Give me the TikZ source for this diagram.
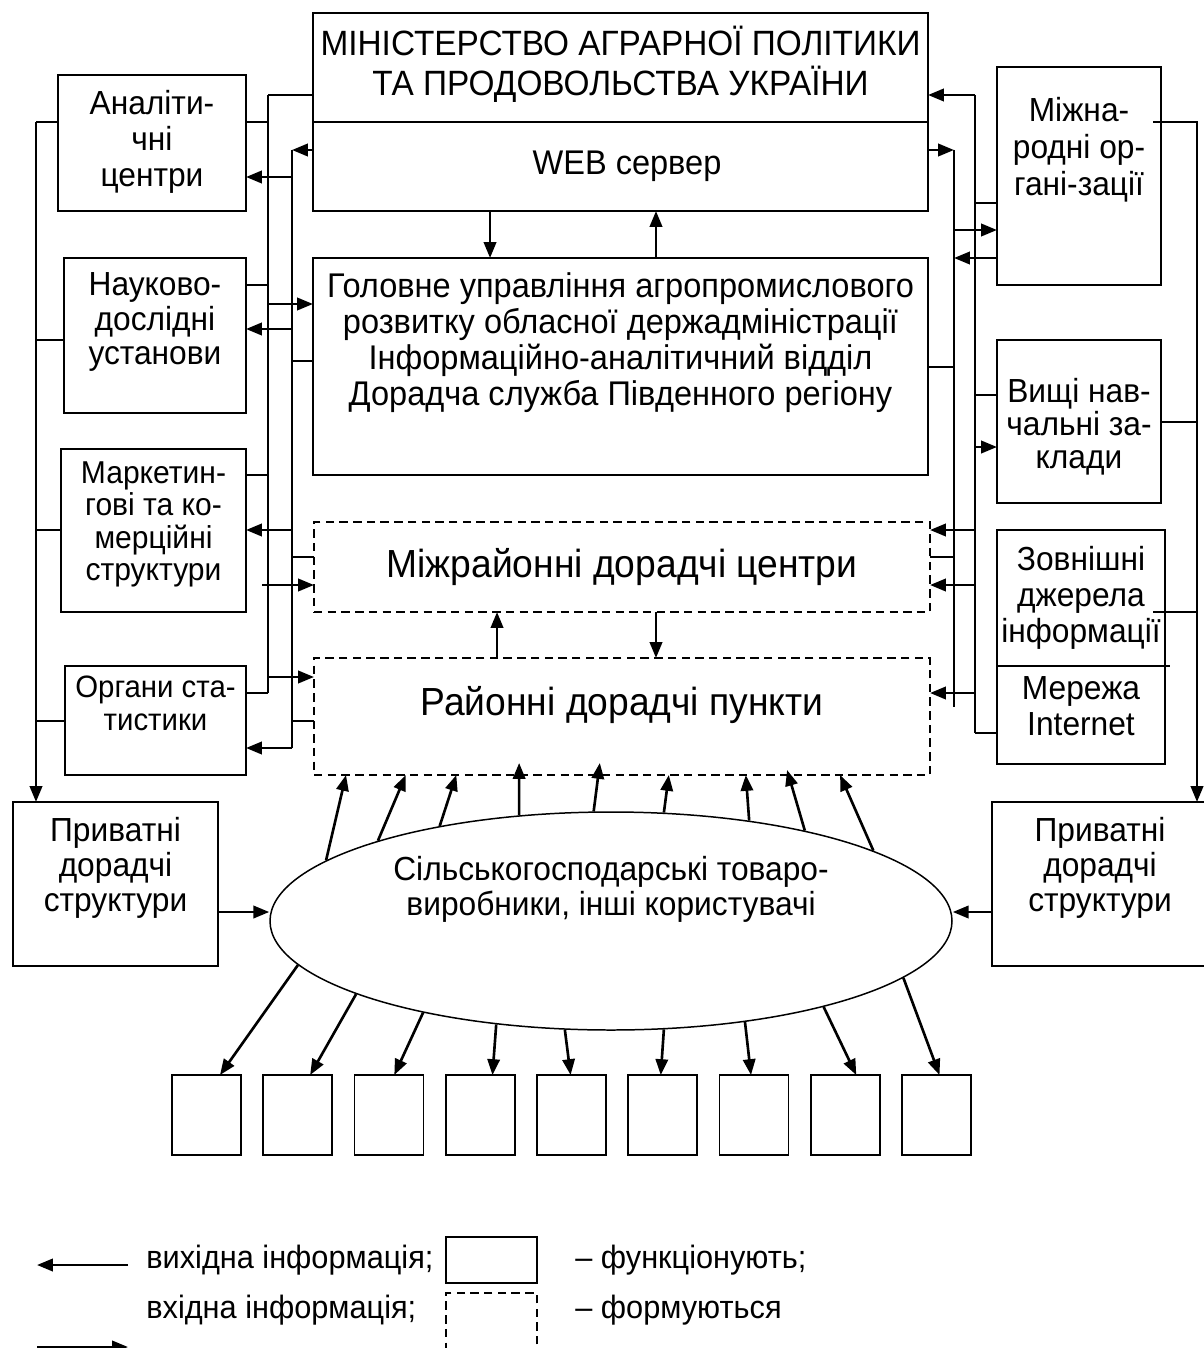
\documentclass[tikz,border=0pt]{standalone}
\usepackage{fontspec}
\setmainfont{Liberation Sans}[FakeStretch=0.95]
\usetikzlibrary{arrows.meta,
                calc,
                positioning,
                shapes.geometric}

\newcommand\setfs[2]{\fontsize{#1}{#2}\selectfont}

\begin{document}
\begin{tikzpicture}[
    x=0.02cm, y=-0.02cm,
        wh/.style 2 args = {minimum width=#1*0.02cm, minimum height=#2*0.02cm},
        base/.style = {inner sep=0pt, outer sep=0pt},
        box/.style = {base, draw, line width=1.1pt},
        dbox/.style = {base, draw, line width=0.85pt, dash pattern=on 4.8pt off 3pt},
        txt/.style = {inner sep=0pt, align=center},
        main/.style = {txt, font={\setfs{19.5}{20.5}}},
        side/.style = {txt, font={\setfs{19}{20}}},
        leg/.style = {inner sep=0pt, font={\setfs{18.4}{20}}},
        ln/.style = {line width=0.85pt},
        bus/.style = {line width=1.1pt},
        arr/.style = {line width=1.5pt, -{Triangle[length=9pt, width=7pt]}}
        ]

    \useasboundingbox (0,0) rectangle (1203,1348);

    % Centre column
    \node[box, wh={615}{109}] (min) at (620.5,67.5) {};
    \node[box, wh={615}{89}, below=0pt of min] (web) {};
    \node[box, wh={615}{217}] (gu) at (620.5,366.5) {};
    \node[dbox, wh={616}{90}] (mz) at (622,567) {};
    \node[dbox, wh={616}{117}] (rp) at (622,716.5) {};

    % Left column
    \node[box, wh={188}{136}] (ana) at (152,143) {};
    \node[box, wh={182}{155}] (nau) at (155,335.5) {};
    \node[box, wh={185}{163}] (mar) at (153.5,530.5) {};
    \node[box, wh={181}{109}] (org) at (155.5,720.5) {};

    % Right column
    \node[box, wh={164}{218}] (mo) at (1079,176) {};
    \node[box, wh={164}{163}] (vnz) at (1079,421.5) {};
    \node[box, wh={168}{136}] (zd) at (1081,598) {};
    \node[box, wh={168}{98}, below=0pt of zd] (inet) {};

    % Users and private structures
    \node[box, wh={205}{164}] (pl) at (115.5,884) {};
    \node[box, wh={220}{164}] (pr) at (1102,884) {};
    \node[ellipse, draw, line width=0.85pt, inner sep=0pt, wh={682}{218}] (farm) at (611,921) {};

    \foreach \i in {0,...,8}
        \node[box, line width=0.9pt, wh={69}{80}] (u\i) at ({206.5+91.25*\i},1115) {};

    % Texts
    \node[main, font={\setfs{20}{22.8}}] (min-t) at ([yshift=0.06cm]min.center)
        {МІНІСТЕРСТВО АГРАРНОЇ ПОЛІТИКИ\\ТА ПРОДОВОЛЬСТВА УКРАЇНИ};
    \node[main] (web-t) at ([xshift=0.13cm]web.center) {WEB сервер};
    \node[main] (gu-t) at ([yshift=0.47cm]gu.center)
        {Головне управління агропромислового\\розвитку обласної держадміністрації\\
         Інформаційно-аналітичний відділ\\Дорадча служба Південного регіону};
    \node[txt, font={\setfs{22.3}{24}}] (mz-t) at (mz) {Міжрайонні дорадчі центри};
    \node[txt, font={\setfs{22.3}{24}}] (rp-t) at ([yshift=0.22cm]rp.center) {Районні дорадчі пункти};

    \node[side, font={\setfs{19}{20.5}}] (ana-t) at ([yshift=0.03cm]ana.center) {Аналіти-\\чні\\центри};
    \node[side, font={\setfs{19}{19.5}}] (nau-t) at ([yshift=0.27cm]nau.center) {Науково-\\дослідні\\установи};
    \node[side, font={\setfs{18}{18.5}}] (mar-t) at ([yshift=0.12cm]mar.center)
        {Маркетин-\\гові та ко-\\мерційні\\структури};
    \node[side, font={\setfs{17.6}{18.8}}] (org-t) at ([yshift=0.34cm]org.center) {Органи ста-\\тистики};

    \node[side, font={\setfs{19}{21}}] (mo-t) at ([yshift=0.52cm]mo.center) {Міжна-\\родні ор-\\гані-зації};
    \node[side, font={\setfs{19}{18.8}}] (vnz-t) at ([yshift=-0.11cm]vnz.center) {Вищі нав-\\чальні за-\\клади};
    \node[side, font={\setfs{19}{20.5}}] (zd-t) at (zd) {Зовнішні\\джерела\\інформації};
    \node[side, font={\setfs{19}{20.5}}] (inet-t) at ([yshift=0.18cm]inet.center) {Мережа\\Internet};

    \node[side] (pl-t) at ([yshift=0.32cm]pl.center) {Приватні\\дорадчі\\структури};
    \node[side] (pr-t) at ([xshift=-0.04cm, yshift=0.32cm]pr.center) {Приватні\\дорадчі\\структури};
    \node[side] (farm-t) at ([yshift=0.64cm]farm.center)
        {Сільськогосподарські товаро-\\виробники, інші користувачі};

    % Bus lines and taps
    \coordinate (L1t) at (268,95);
    \coordinate (L1b) at (268,693);
    \coordinate (L2t) at (292,150);
    \coordinate (L2b) at (292,748);
    \coordinate (FLt) at (36,122);
    \coordinate (R1t) at (975,95);
    \coordinate (R1b) at (975,733);
    \coordinate (R2t) at (954,150);
    \coordinate (R2b) at (954,707);
    \coordinate (FRt) at (1197,122);
    \foreach \nm/\x/\y in {l1a/268/122, l1b/268/285, l1c/268/475, l1e/268/304, l1g/262/585, l1h/268/677,
                           l2a/292/177, l2b/292/329, l2c/292/530, l2d/292/361, l2e/292/557, l2f/292/721,
                           fl2/36/340, fl3/36/530, fl4/36/721,
                           r1a/975/203, r1b/975/395, r1c/975/447, r1d/975/530, r1e/975/585, r1f/975/693,
                           r2a/954/230, r2b/954/258, r2c/954/367, r2d/954/557,
                           fr1/1153/122, fr2/1197/422, fr3/1197/612, fr4/1153/612}
        \coordinate (\nm) at (\x,\y);

    \draw[bus] (L1t) -- (L1b)
               (L2t) -- (L2b)
               (R1t) -- (R1b)
               (R2t) -- (R2b);

    % Left side
    \draw[ln] (L1t) -- (L1t -| min.west)
              (l1a) -- (l1a -| ana.east)
              (l1b) -- (l1b -| nau.east)
              (l1c) -- (l1c -| mar.east)
              (L1b) -- (L1b -| org.east)
              (l2d) -- (l2d -| gu.west)
              (l2e) -- (l2e -| mz.west)
              (l2f) -- (l2f -| rp.west)
              (FLt) -- (FLt -| ana.west)
              (fl2) -- (fl2 -| nau.west)
              (fl3) -- (fl3 -| mar.west)
              (fl4) -- (fl4 -| org.west);
    \draw[arr] (l1e) -- (l1e -| gu.west);
    \draw[arr] (l1g) -- (l1g -| mz.west);
    \draw[arr] (l1h) -- (l1h -| rp.west);
    \draw[arr] (L2t -| web.west) -- (L2t);
    \draw[arr] (l2a) -- (l2a -| ana.east);
    \draw[arr] (l2b) -- (l2b -| nau.east);
    \draw[arr] (l2c) -- (l2c -| mar.east);
    \draw[arr] (L2b) -- (L2b -| org.east);
    \draw[arr] (FLt) -- (FLt |- pl.north);

    % Right side
    \draw[ln] (r1a) -- (r1a -| mo.west)
              (r1b) -- (r1b -| vnz.west)
              (R1b) -- (R1b -| inet.west)
              (r2c) -- (r2c -| gu.east)
              (r2d) -- (r2d -| mz.east)
              (fr2) -- (fr2 -| vnz.east)
              (fr3) -- (fr4)
              (zd.south east) -- ++(5,0);
    \draw[arr] (R1t) -- (R1t -| min.east);
    \draw[arr] (r1c) -- (r1c -| vnz.west);
    \draw[arr] (r1d) -- (r1d -| mz.east);
    \draw[arr] (r1e) -- (r1e -| mz.east);
    \draw[arr] (r1f) -- (r1f -| rp.east);
    \draw[arr] (R2t -| web.east) -- (R2t);
    \draw[arr] (r2a) -- (r2a -| mo.west);
    \draw[arr] (r2b -| mo.west) -- (r2b);
    \draw[arr] (fr1) -- (FRt) -- (FRt |- pr.north);

    % Centre column
    \draw[arr] ([xshift=-2.61cm]web.south) -- ([xshift=-2.61cm]gu.north);
    \draw[arr] ([xshift=0.71cm]gu.north) -- ([xshift=0.71cm]web.south);
    \draw[arr] ([xshift=-2.5cm]rp.north) -- ([xshift=-2.5cm]mz.south);
    \draw[arr] ([xshift=0.68cm]mz.south) -- ([xshift=0.68cm]rp.north);

    % Users
    \draw[arr] ($(pl.east)+(0,28)$) coordinate (pa) -- (pa -| farm.west);
    \draw[arr] ($(pr.west)+(0,28)$) coordinate (pb) -- (pb -| farm.east);
    \foreach \a/\f/\d in {168/0.052/0, 161/0.149/0, 151/0.231/0, 131/0.333/12, 99/0.464/12,
                          64/0.576/0, 36/0.701/0, 25/0.768/5, 15/0.854/0}
        \draw[arr] (farm.\a) -- ($(rp.south west)!\f!(rp.south east)+(0,-\d)$);
    \foreach \a/\dx [count=\i from 0] in {188/13.5, 196/12.4, 206/5.3, 222/12.2, 247/-0.9,
                                          296/-2, 323/-3, 338/11, 349/3}
        \draw[arr] (farm.\a) -- ($(u\i.north)+(\dx,0)$);

    % Legend
    \node[box, wh={91}{46}] (lg-f) at (491.5,1260) {};
    \node[dbox, wh={91}{70}] (lg-n) at (491.5,1328) {};
    \node[leg, anchor=base west] (lg-out) at (146,1268) {вихідна інформація;};
    \node[leg, anchor=base west] (lg-in) at (146,1318) {вхідна інформація;};
    \node[leg, anchor=base west] (lg-fun) at (575,1268) {– функціонують;};
    \node[leg, anchor=base west] (lg-new) at (575,1318) {– формуються};
    \coordinate (lg1s) at (128,1265);
    \coordinate (lg1e) at (37,1265);
    \coordinate (lg2s) at (37,1347);
    \coordinate (lg2e) at (128,1347);
    \draw[arr] (lg1s) -- (lg1e);
    \draw[arr] (lg2s) -- (lg2e);

\end{tikzpicture}
\end{document}
